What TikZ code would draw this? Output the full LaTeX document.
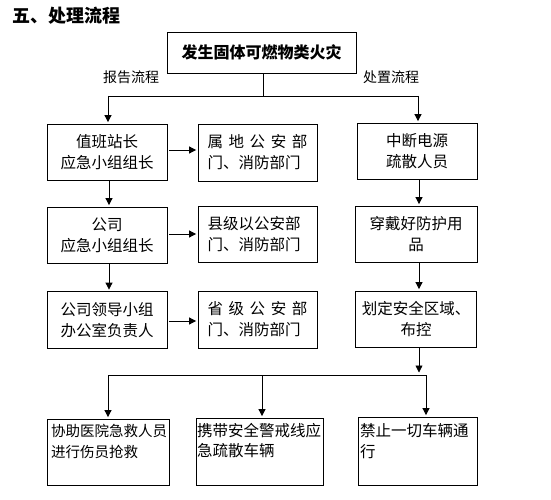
\documentclass[tikz,border=0pt]{standalone}
\usepackage{fontspec}
\setmainfont{Noto Sans CJK SC}
\usetikzlibrary{arrows.meta}
\begin{document}
\begin{tikzpicture}[x=1pt,y=-1pt,
  box/.style={draw, line width=0.8pt, inner sep=0pt, align=center,
    font=\fontsize{15.5}{21}\selectfont},
  btxt/.style={inner sep=0pt, anchor=north west, align=left,
    font=\fontsize{15}{21}\selectfont},
  lbl/.style={inner sep=0pt, font=\fontsize{14}{16}\selectfont},
  arr/.style={-{Triangle[length=7pt,width=7pt]}, line width=0.8pt, shorten >=1.5pt},
  ln/.style={line width=0.8pt}]
\useasboundingbox (0,0) rectangle (551,500);
\fill[white] (0,0) rectangle (551,500);

\node[anchor=west, inner sep=0pt, font=\fontsize{18}{20}\selectfont\bfseries] (title) at (12,16) {五、处理流程};

\node[box, minimum width=189pt, minimum height=41pt, font=\fontsize{16}{20}\selectfont\bfseries] (T) at (261.5,52.5) {发生固体可燃物类火灾};

\node[lbl] (lr) at (131,77) {报告流程};
\node[lbl] (lp) at (391,77) {处置流程};

% left column
\node[box, minimum width=120pt, minimum height=56pt] (L1) at (107,152) {值班站长\\应急小组组长};
\node[box, minimum width=120pt, minimum height=56pt] (L2) at (107,235) {公司\\应急小组组长};
\node[box, minimum width=120pt, minimum height=57pt] (L3) at (107,320) {公司领导小组\\办公室负责人};

% middle column
\node[box, minimum width=119pt, minimum height=57pt, align=left, text width=100pt] (M1) at (257.5,152.5)
  {\makebox[100pt][s]{属\hfil 地\hfil 公\hfil 安\hfil 部}\\门、消防部门};
\node[box, minimum width=119pt, minimum height=56pt, align=left, text width=100pt] (M2) at (257.5,234)
  {县级以公安部\\门、消防部门};
\node[box, minimum width=119pt, minimum height=57pt, align=left, text width=100pt] (M3) at (257.5,319.5)
  {\makebox[100pt][s]{省\hfil 级\hfil 公\hfil 安\hfil 部}\\门、消防部门};

% right column
\node[box, minimum width=120pt, minimum height=56pt] (R1) at (417,151) {中断电源\\疏散人员};
\node[box, minimum width=122pt, minimum height=56pt] (R2) at (416,234) {穿戴好防护用\\品};
\node[box, minimum width=121pt, minimum height=56pt] (R3) at (416,319) {划定安全区域、\\布控};

% bottom boxes
\node[box, minimum width=122pt, minimum height=66pt] (B1) at (108,452) {};
\node[box, minimum width=127pt, minimum height=67pt] (B2) at (259.5,451.5) {};
\node[box, minimum width=119pt, minimum height=68pt] (B3) at (417.5,451) {};
\node[btxt, font=\fontsize{14.5}{21}\selectfont] (B1t) at (51,424) {协助医院急救人员\\进行伤员抢救};
\node[btxt, font=\fontsize{15.5}{20}\selectfont] (B2t) at (197,423) {携带安全警戒线应\\急疏散车辆};
\node[btxt, font=\fontsize{15.5}{21}\selectfont] (B3t) at (360,423) {禁止一切车辆通\\行};

% top connectors
\coordinate (tj) at (263,96);
\coordinate (tl) at (108,96);
\coordinate (tr) at (418,96);
\draw[ln] (T.south -| tj) -- (tj);
\draw[ln] (tl) -- (tr);
\draw[arr] (tl) -- (tl |- L1.north);
\draw[arr] (tr) -- (tr |- R1.north);

% left column vertical arrows
\draw[arr] (L1.south) ++(2,0) coordinate (a1) -- (a1 |- L2.north);
\draw[arr] (L2.south) ++(2,0) coordinate (a2) -- (a2 |- L3.north);

% horizontal arrows
\draw[arr] ([yshift=2pt]L1.east) ++(2,0) coordinate (h1) -- (h1 -| M1.west);
\draw[arr] ([yshift=1pt]L2.east) ++(2,0) coordinate (h2) -- (h2 -| M2.west);
\draw[arr] ([yshift=-1pt]L3.east) ++(2,0) coordinate (h3) -- (h3 -| M3.west);

% right column vertical arrows
\coordinate (rx) at (419,0);
\draw[arr] (rx |- R1.south) -- (rx |- R2.north);
\draw[arr] (rx |- R2.south) -- (rx |- R3.north);
\coordinate (rb) at (419,374);
\draw[arr] (rx |- R3.south) -- (rb);

% bottom distribution
\coordinate (bl) at (108,375);
\coordinate (bm) at (262,375);
\coordinate (br) at (426,375);
\draw[ln] (bl) -- (br);
\draw[arr] (bl) -- (bl |- B1.north);
\draw[arr] (bm) -- (bm |- B2.north);
\draw[arr] (br) -- (br |- B3.north);
\end{tikzpicture}
\end{document}
